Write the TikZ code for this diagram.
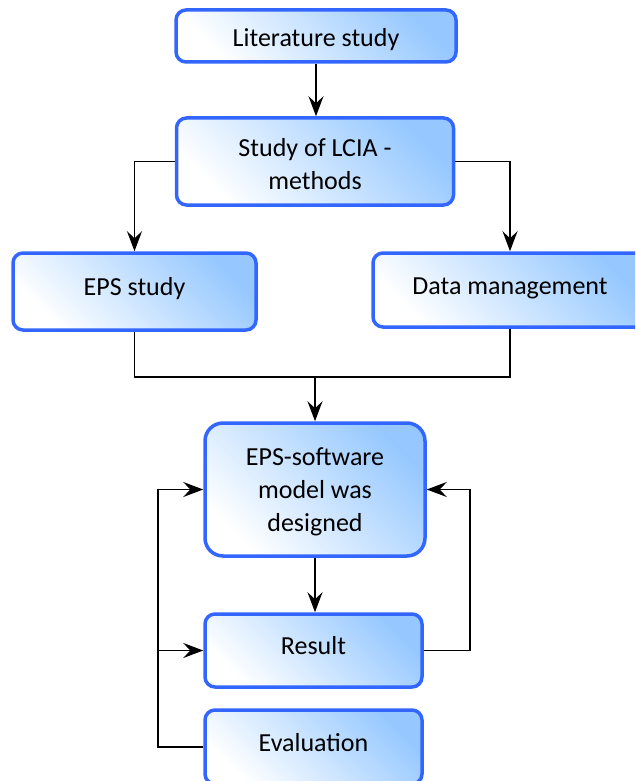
\documentclass[tikz,border=0pt]{standalone}
\usepackage{fontspec}
\setmainfont{Carlito}
\usetikzlibrary{arrows.meta,calc}
\definecolor{boxedge}{RGB}{51,102,255}
\definecolor{boxfill}{RGB}{150,200,255}
% move a line of text up (positive) or down (negative) without changing the node size
\newcommand{\txtshift}[2]{\raisebox{#1}[\height][\depth]{#2}}
\tikzset{
  stepbox/.style={draw=boxedge, line width=3.5pt, rounded corners=10pt,
    top color=boxfill, bottom color=white, shading angle=-45,
    align=center, inner sep=0pt, font=\fontsize{26}{33}\selectfont},
  link/.style={draw=black, line width=1.6pt},
  arrowlink/.style={link, -{Stealth[length=20pt,width=15pt,inset=7pt]}}
}
\begin{document}
\begin{tikzpicture}[x=1pt,y=-1pt]
  \useasboundingbox (0,0) rectangle (635,781);
  \clip (0,0) rectangle (635,781);

  % process steps
  \node[stepbox, minimum width=280pt, minimum height=52pt] (lit) at (316,36) {\txtshift{-4pt}{Literature study}};
  \node[stepbox, minimum width=277pt, minimum height=87pt] (lcia) at (315,161.5) {\txtshift{-3pt}{Study of LCIA -}\\\txtshift{-3pt}{methods}};
  \node[stepbox, minimum width=243pt, minimum height=77pt] (eps) at (134.5,291.5) {\txtshift{3pt}{EPS study}};
  \node[stepbox, minimum width=274pt, minimum height=74pt] (data) at (510,290) {\txtshift{2pt}{Data management}};
  \node[stepbox, rounded corners=18pt, minimum width=220pt, minimum height=133pt] (sw) at (315,489.5) {\txtshift{-2pt}{EPS-software}\\\txtshift{-2pt}{model was}\\\txtshift{-2pt}{designed}};
  \node[stepbox, minimum width=217pt, minimum height=73pt] (res) at (313.5,650.5) {\txtshift{5pt}{Result}};
  \node[stepbox, minimum width=217pt, minimum height=74pt] (eval) at (313.5,747) {\txtshift{4pt}{Evaluation}};

  % helper points for the routed connectors
  \coordinate (j) at (315,377);
  \coordinate (rr) at (470,0);
  \coordinate (ll) at (158,0);

  % connectors
  \draw[arrowlink] (lit.south) -- (lit.south |- lcia.north);
  \draw[arrowlink] (lcia.west) -| (eps.north);
  \draw[arrowlink] (lcia.east) -| (data.north);
  \draw[link] (eps.south) |- (j);
  \draw[link] (data.south) |- (j);
  \draw[arrowlink] (j) -- (sw.north);
  \draw[arrowlink] (sw.south) -- (sw.south |- res.north);
  \draw[arrowlink] (res.east) -| (rr |- sw.east) -- (sw.east);
  \draw[arrowlink] (eval.west) -| (ll |- sw.west) -- (sw.west);
  \draw[arrowlink] (ll |- res.west) -- (res.west);
\end{tikzpicture}
\end{document}
